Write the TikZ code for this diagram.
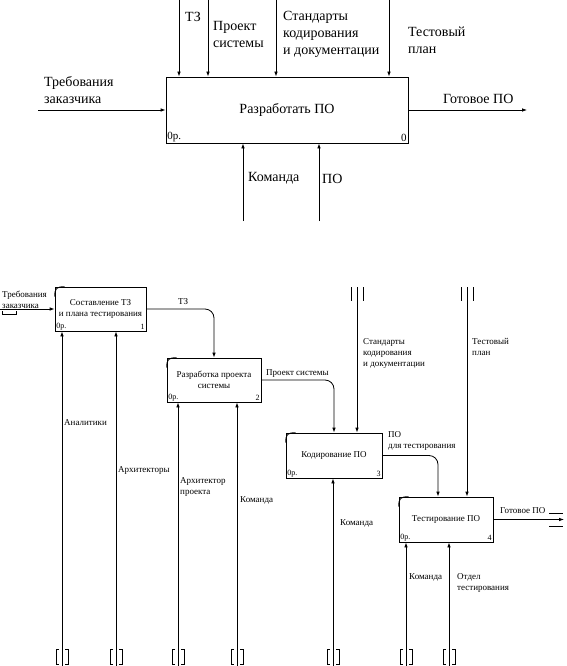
\documentclass[tikz,border=0pt]{standalone}
\usepackage{fontspec}
\setmainfont{Liberation Serif}
\usetikzlibrary{arrows.meta,calc,positioning}

\tikzset{
  func/.style={draw,line width=0.8pt,inner sep=0pt,align=center},
  arr/.style={line width=0.8pt,-{Latex[length=5pt,width=3.6pt]}},
  big/.style={font=\fontsize{14}{17}\selectfont},
  lbl/.style={font=\fontsize{9}{11}\selectfont,inner sep=0pt,align=left,anchor=west},
  toplbl/.style={big,inner sep=0pt,align=left,anchor=west},
  corner/.style={font=\fontsize{8}{9}\selectfont,inner sep=1.5pt}
}

\begin{document}
\begin{tikzpicture}[x=1pt,y=-1pt]
\useasboundingbox[fill=white] (0,0) rectangle (566,666);

% context diagram
\node[func,big,minimum width=242,minimum height=66] (A0) at (287,110) {Разработать ПО};
\node[corner,font=\fontsize{11}{12}\selectfont,anchor=south west] at (A0.south west) {0р.};
\node[corner,font=\fontsize{11}{12}\selectfont,anchor=south east] at (A0.south east) {0};

\coordinate (tz0) at (179,0);
\coordinate (ps0) at (208,0);
\coordinate (st0) at (276,0);
\coordinate (tp0) at (389,0);
\coordinate (tr0) at (38,110);
\coordinate (go0) at (527,110);
\coordinate (km0) at (243,221);
\coordinate (po0) at (319,221);
\foreach \c in {tz0,ps0,st0,tp0} \draw[arr] (\c) -- (\c |- A0.north);
\foreach \c in {km0,po0} \draw[arr] (\c) -- (\c |- A0.south);
\draw[arr] (tr0) -- (A0.west);
\draw[arr] (A0.east) -- (go0);

\node[toplbl] at (185,17) {ТЗ};
\node[toplbl] at (213,34.5) {Проект\\системы};
\node[toplbl] at (283,34) {Стандарты\\кодирования\\и документации};
\node[toplbl] at (408,40) {Тестовый\\план};
\node[toplbl] at (44,90.5) {Требования\\заказчика};
\node[toplbl] at (443,99) {Готовое ПО};
\node[toplbl] at (248,178) {Команда};
\node[toplbl] at (322,179) {ПО};

% decomposition
\node[func,font=\fontsize{9}{11}\selectfont,minimum width=91,minimum height=44] (B1) at (100.5,309) {Составление ТЗ\\и плана тестирования};
\node[func,font=\fontsize{9}{11}\selectfont,minimum width=94,minimum height=44] (B2) at (214,380) {Разработка проекта\\системы};
\node[func,font=\fontsize{9}{11}\selectfont,minimum width=96,minimum height=45] (B3) at (334,455.5) {Кодирование ПО};
\node[func,font=\fontsize{9}{11}\selectfont,minimum width=94,minimum height=45] (B4) at (446,519.5) {Тестирование ПО};
\foreach \b/\n in {B1/1,B2/2,B3/3,B4/4} {
  \draw[line width=0.7pt] ($(\b.north west)+(0,10)$) .. controls ($(\b.north west)+(0,2)$) and ($(\b.north west)+(2,0)$) .. ($(\b.north west)+(10,0)$);
  \node[corner,anchor=south west] at (\b.south west) {0р.};
  \node[corner,anchor=south east] at (\b.south east) {\n};
}

\coordinate (trq) at (0,309);
\coordinate (std) at (357,287);
\coordinate (tpl) at (467,287);
\coordinate (gpo) at (564,519.5);
\draw[arr] (trq) -- (B1.west);
\draw[arr,rounded corners=9] (B1.east) -| (B2.north);
\draw[arr,rounded corners=9] (B2.east) -| (B3.north);
\draw[arr,rounded corners=9] (B3.east) -| ([xshift=-8pt]B4.north);
\draw[arr] (std) -- (std |- B3.north);
\draw[arr] (tpl) -- (tpl |- B4.north);
\draw[arr] (B4.east) -- (gpo);

% mechanisms
\foreach \x/\b in {62/B1,116/B1,178/B2,237/B2,333/B3,406/B4,449/B4} {
  \coordinate (m\x) at (\x,666);
  \draw[arr] (m\x) -- (m\x |- \b.south);
  \draw[line width=0.7pt] (\x-3,649) -- (\x-6,649) -- (\x-6,664) -- (\x-3,664);
  \draw[line width=0.7pt] (\x+3,649) -- (\x+6,649) -- (\x+6,664) -- (\x+3,664);
}

% tunnels
\foreach \x in {357,467} {
  \draw[line width=0.8pt] (\x-6,287) -- (\x-6,301);
  \draw[line width=0.8pt] (\x+6,287) -- (\x+6,301);
}
\draw[line width=0.7pt] (549,513) -- (563,513);
\draw[line width=0.7pt] (549,526) -- (563,526);
\draw[line width=0.7pt] (2,311) -- (2,314) -- (16,314) -- (16,311);

\node[lbl] at (2,299.5) {Требования\\заказчика};
\node[lbl] at (178,302) {ТЗ};
\node[lbl] at (266,374) {Проект системы};
\node[lbl] at (363,353) {Стандарты\\кодирования\\и документации};
\node[lbl] at (472,347) {Тестовый\\план};
\node[lbl] at (388,440.5) {ПО\\для тестирования};
\node[lbl] at (500,511) {Готовое ПО};
\node[lbl] at (64,423) {Аналитики};
\node[lbl] at (118,470) {Архитекторы};
\node[lbl] at (180,487) {Архитектор\\проекта};
\node[lbl] at (240,500) {Команда};
\node[lbl] at (340,523) {Команда};
\node[lbl] at (409,577) {Команда};
\node[lbl] at (457,582.5) {Отдел\\тестирования};
\end{tikzpicture}
\end{document}
